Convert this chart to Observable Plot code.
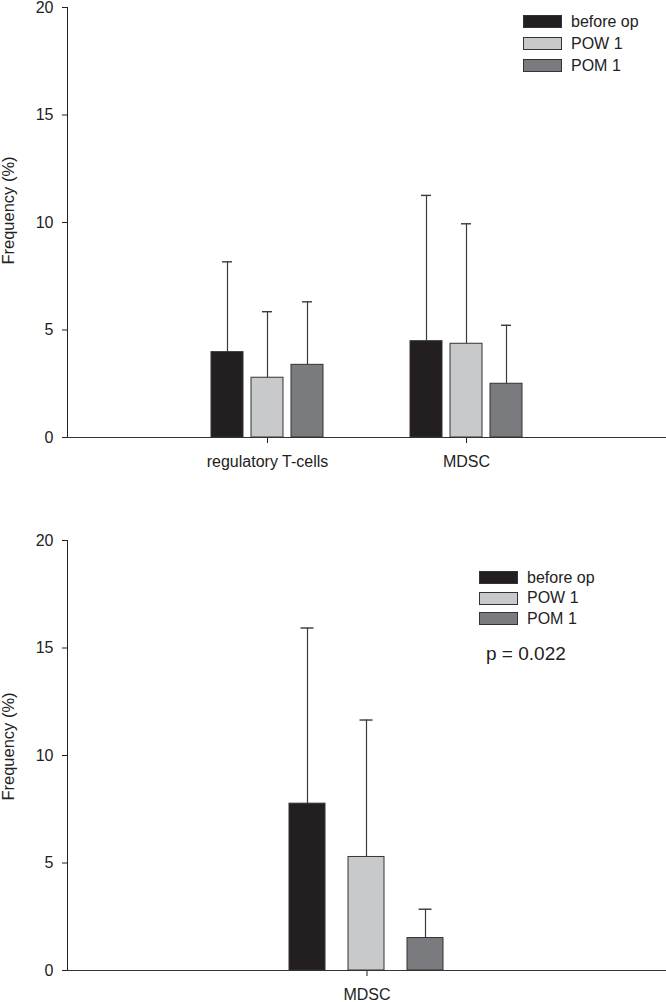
<!DOCTYPE html>
<html>
<head>
<meta charset="utf-8">
<script src="https://cdn.jsdelivr.net/npm/d3@7"></script>
<script src="https://cdn.jsdelivr.net/npm/@observablehq/plot@0.6"></script>
<style>
  body { margin: 0; background: #fff; font-family: "Liberation Sans", Arial, sans-serif; }
  .panel { position: relative; width: 666px; }
  .legend { position: absolute; font-size: 16px; color: #222; }
  .row { display: flex; align-items: center; height: 13px; }
  .sw { width: 37px; height: 11px; border: 1px solid #333; margin-right: 9px; }
  .pval { position: absolute; font-size: 19px; line-height: 19px; color: #222; }
</style>
</head>
<body>
<div id="top" class="panel"></div>
<div id="bottom" class="panel"></div>
<script>
// ---- data ----
const series = ["before op", "POW 1", "POM 1"];
const seriesColors = ["#231f20", "#c8c9cb", "#7a7b7e"];
const topCategories = ["regulatory T-cells", "MDSC"];
const topMeansTreg = [3.97, 2.78, 3.38];
const topUpperTreg = [8.17, 5.85, 6.31];   // mean + SD
const topMeansMDSC = [4.48, 4.36, 2.50];
const topUpperMDSC = [11.26, 9.94, 5.22];
const bottomCategories = ["MDSC"];
const bottomMeansMDSC = [7.76, 5.28, 1.51];
const bottomUpperMDSC = [15.93, 11.65, 2.85];
const yTicks = [0, 5, 10, 15, 20];
const yLabel = "Frequency (%)";
const pText = "p = 0.022";

function rows(category, means, uppers) {
  return series.map((s, i) => ({category, series: s, mean: means[i], upper: uppers[i]}));
}
const topData = [
  ...rows(topCategories[0], topMeansTreg, topUpperTreg),
  ...rows(topCategories[1], topMeansMDSC, topUpperMDSC)
];
const bottomData = rows(bottomCategories[0], bottomMeansMDSC, bottomUpperMDSC);

function chart({data, categories, height, marginTop, marginBottom, fxPadInner, xPadInner, xPadOuter, capInset, labelDy}) {
  return Plot.plot({
    width: 666,
    height,
    marginLeft: 67,
    marginRight: 0,
    marginTop,
    marginBottom,
    style: {fontFamily: "Liberation Sans, Arial, sans-serif", fontSize: "16px", color: "#222", background: "#fff"},
    // facets span from the y axis; overlapping bands let each group sit at its reference position
    fx: {domain: categories, paddingInner: fxPadInner, paddingOuter: 0, label: null, tickSize: 6, tickPadding: 12, axis: "bottom"},
    x: {domain: series, paddingInner: xPadInner, paddingOuter: xPadOuter, axis: null},
    y: {domain: [0, 20], ticks: yTicks, tickSize: 5, tickPadding: 9, line: true, label: null},
    color: {domain: series, range: seriesColors},
    marks: [
      Plot.frame({facet: "super", anchor: "bottom", stroke: "#333", strokeWidth: 1.2}),
      Plot.text([yLabel], {facet: "super", text: d => d, frameAnchor: "left", rotate: -90, dx: -59, dy: labelDy,
        textAnchor: "middle", lineAnchor: "middle", fontSize: 16.5, fill: "#222"}),
      Plot.ruleX(data, {fx: "category", x: "series", y1: "mean", y2: "upper", stroke: "#3a3a3a", strokeWidth: 1.2}),
      Plot.tickY(data, {fx: "category", x: "series", y: "upper", stroke: "#3a3a3a", strokeWidth: 1.4, inset: capInset}),
      Plot.barY(data, {fx: "category", x: "series", y: "mean", fill: "series", stroke: "#333", strokeWidth: 1})
    ]
  });
}

const topChart = chart({data: topData, categories: topCategories, height: 501, marginTop: 7, marginBottom: 64,
  fxPadInner: -1.01, xPadInner: 0.2, xPadOuter: 3.6, capInset: 11, labelDy: -12});
const bottomChart = chart({data: bottomData, categories: bottomCategories, height: 501, marginTop: 39, marginBottom: 32,
  fxPadInner: 0, xPadInner: 0.387, xPadOuter: 3.727, capInset: 11.5, labelDy: -9});

function legend(parent, left, top, gap) {
  const lg = document.createElement("div");
  lg.className = "legend";
  lg.style.left = left + "px";
  lg.style.top = top + "px";
  series.forEach((s, i) => {
    const r = document.createElement("div");
    r.className = "row";
    if (i < series.length - 1) r.style.marginBottom = gap + "px";
    const sw = document.createElement("div");
    sw.className = "sw";
    sw.style.background = seriesColors[i];
    const t = document.createElement("span");
    t.textContent = s;
    r.appendChild(sw); r.appendChild(t);
    lg.appendChild(r);
  });
  parent.appendChild(lg);
}

const topDiv = document.getElementById("top");
topDiv.appendChild(topChart);
legend(topDiv, 523, 15, 9);

const botDiv = document.getElementById("bottom");
botDiv.appendChild(bottomChart);
legend(botDiv, 479, 70, 7.5);
const p = document.createElement("div");
p.className = "pval";
p.style.left = "486px";
p.style.top = "143px";
p.textContent = pText;
botDiv.appendChild(p);
</script>
</body>
</html>
